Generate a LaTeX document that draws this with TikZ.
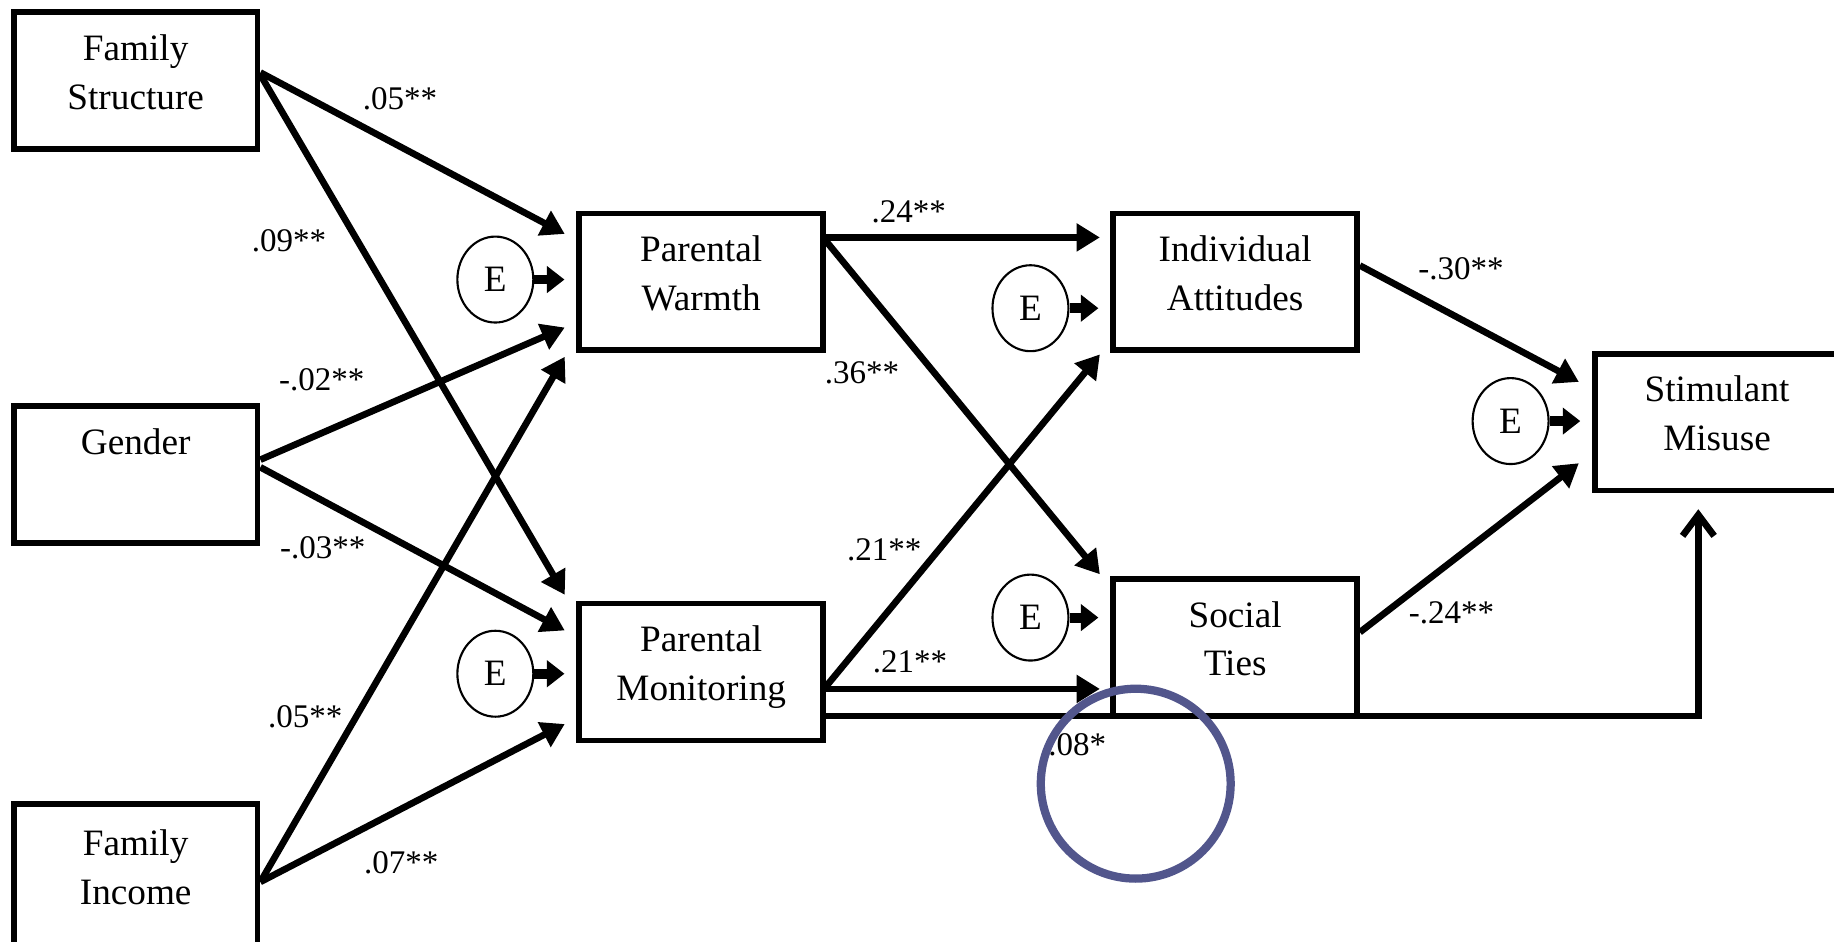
\documentclass[tikz,border=0pt]{standalone}
\usepackage{fontspec}
\setmainfont{Liberation Serif}
\usetikzlibrary{arrows.meta,shapes.geometric,calc}
\definecolor{ringblue}{RGB}{82,86,140}

\begin{document}
\begin{tikzpicture}[x=0.011697cm,y=-0.011697cm,
  var/.style={draw,line width=1.6pt,minimum width=2.44cm,minimum height=1.369cm,inner sep=0pt,align=center,text depth=5pt,font=\fontsize{10.6}{13.9}\selectfont},
  err/.style={ellipse,draw,line width=0.6pt,minimum width=0.76cm,minimum height=0.86cm,inner sep=0pt,font=\fontsize{10.6}{13}\selectfont},
  effect/.style={line width=1.9pt,-{Triangle[length=6.6pt,width=7.6pt]}},
  errarrow/.style={line width=2.8pt,shorten >=0.12cm,-{Triangle[length=5pt,width=7.4pt]}},
  coef/.style={inner sep=0pt,font=\fontsize{9.4}{11}\selectfont}]
\useasboundingbox (0,0) rectangle (1568,805);

% observed variables
\node[var] (fs) at (116,69) {Family\\Structure};
\node[var] (gen) at (116,405.5) {Gender\\~};
\node[var,minimum height=1.44cm] (inc) at (116,749) {Family\\Income};
\node[var] (pw) at (599.5,241) {Parental\\Warmth};
\node[var] (pm) at (599.5,574.5) {Parental\\Monitoring};
\node[var] (ia) at (1056,241) {Individual\\Attitudes};
\node[var] (st) at (1056,553.5) {Social\\Ties};
\node[var] (sm) at (1468,361) {Stimulant\\Misuse};

% error terms
\node[err] (e1) at (423.5,239) {E};
\node[err] (e2) at (423.5,576) {E};
\node[err] (e3) at (881,263.5) {E};
\node[err] (e4) at (881,528) {E};
\node[err] (e5) at (1291.5,360) {E};
\draw[errarrow] (e1) -- (e1 -| pw.west);
\draw[errarrow] (e2) -- (e2 -| pm.west);
\draw[errarrow] (e3) -- (e3 -| ia.west);
\draw[errarrow] (e4) -- (e4 -| st.west);
\draw[errarrow] (e5) -- (e5 -| sm.west);

% paths
\draw[effect] ($(fs.east)+(0,-7)$) -- ($(pw.west)+(-10,-41)$);
\draw[effect] ($(fs.east)+(0,-5)$) -- ($(pm.west)+(-10,-66)$);
\draw[effect] ($(gen.east)+(0,-12.5)$) -- ($(pw.west)+(-10,39)$);
\draw[effect] ($(gen.east)+(0,-6)$) -- ($(pm.west)+(-10,-35.5)$);
\draw[effect] ($(inc.east)+(0,5)$) -- ($(pw.west)+(-10,64)$);
\draw[effect] ($(inc.east)+(0,5)$) -- ($(pm.west)+(-10,44.5)$);
\draw[effect] ($(pw.east)+(0,-38)$) -- ($(ia.west)+(-9,-38)$);
\draw[effect] ($(pw.east)+(0,-35)$) -- ($(st.west)+(-9,-62.5)$);
\draw[effect] ($(pm.east)+(0,12.5)$) -- ($(ia.west)+(-9,62)$);
\draw[effect] ($(pm.east)+(0,14.5)$) -- ($(st.west)+(-9,35.5)$);
\draw[line width=1.9pt,-{Straight Barb[length=6pt,width=9pt]}] ($(pm.east)+(0,37.5)$) -| ($(sm.south)+(-16,13.5)$);
\draw[effect] ($(ia.east)+(0,-14)$) -- ($(sm.west)+(-11.5,-34.5)$);
\draw[effect] ($(st.east)+(0,-13)$) -- ($(sm.west)+(-11.5,35)$);

% coefficients
\node[coef] (c1) at (342,84) {.05**};
\node[coef] (c2) at (247,206) {.09**};
\node[coef] (c3) at (275,325) {-.02**};
\node[coef] (c4) at (276,468) {-.03**};
\node[coef] (c5) at (261,613) {.05**};
\node[coef] (c6) at (343,738) {.07**};
\node[coef] (c7) at (777,181) {.24**};
\node[coef] (c8) at (737,319) {.36**};
\node[coef] (c9) at (756,470) {.21**};
\node[coef] (c10) at (778,566) {.21**};
\node[coef] (c11) at (921,637) {.08*};
\node[coef] (c12) at (1249,230) {-.30**};
\node[coef] (c13) at (1241,524) {-.24**};

\draw[line width=2.35pt,ringblue] (971,670) circle[radius=0.95cm];
\end{tikzpicture}
\end{document}
